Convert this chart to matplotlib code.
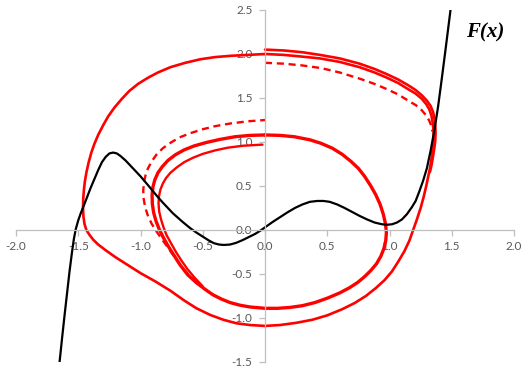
import numpy as np
import matplotlib
matplotlib.use("Agg")
import matplotlib.pyplot as plt

# F(x) curve
f_x = [-1.65, -1.63, -1.61, -1.59, -1.57, -1.55, -1.535, -1.52, -1.50, -1.48, -1.46,
       -1.43, -1.40, -1.37, -1.34, -1.31, -1.28, -1.25, -1.22, -1.19, -1.16, -1.12,
       -1.08, -1.04, -1.00, -0.94, -0.87, -0.82, -0.78, -0.74, -0.70, -0.66, -0.60,
       -0.55, -0.50, -0.45, -0.41, -0.37, -0.33, -0.28, -0.23, -0.18, -0.13, -0.08,
       -0.04, 0.00, 0.06, 0.12, 0.18, 0.24, 0.30, 0.36, 0.42, 0.47, 0.52, 0.58,
       0.64, 0.70, 0.76, 0.82, 0.88, 0.94, 0.98, 1.02, 1.06, 1.10, 1.14, 1.18,
       1.21, 1.24, 1.27, 1.30, 1.33, 1.36, 1.39, 1.42, 1.45, 1.49]
f_y = [-1.50, -1.23, -0.97, -0.72, -0.47, -0.25, -0.10, 0.01, 0.11, 0.19, 0.26,
       0.37, 0.48, 0.58, 0.68, 0.77, 0.83, 0.87, 0.88, 0.87, 0.84, 0.79,
       0.73, 0.67, 0.61, 0.51, 0.39, 0.31, 0.25, 0.19, 0.14, 0.09, 0.02,
       -0.03, -0.075, -0.12, -0.15, -0.165, -0.17, -0.165, -0.145, -0.115, -0.08, -0.045,
       -0.01, 0.03, 0.09, 0.145, 0.20, 0.25, 0.29, 0.32, 0.33, 0.33, 0.32, 0.29,
       0.25, 0.205, 0.16, 0.12, 0.085, 0.065, 0.06, 0.065, 0.085, 0.12, 0.18, 0.26,
       0.33, 0.44, 0.56, 0.70, 0.90, 1.13, 1.40, 1.72, 2.05, 2.50]

# outer trajectory (starts at top, y=2.0, runs clockwise back to it)
outer_x = [0.00, 0.15, 0.30, 0.44, 0.60, 0.76, 0.88, 0.98, 1.07, 1.15, 1.21, 1.26,
           1.295, 1.32, 1.337, 1.347, 1.353, 1.355, 1.352, 1.345, 1.337, 1.325, 1.31,
           1.295, 1.275, 1.25, 1.22, 1.19, 1.16, 1.12, 1.07, 1.02, 0.96, 0.89, 0.81,
           0.72, 0.62, 0.50, 0.38, 0.25, 0.12, 0.00, -0.12, -0.23, -0.335, -0.44,
           -0.55, -0.65, -0.76, -0.88, -1.00, -1.10, -1.20, -1.28, -1.34, -1.38,
           -1.41, -1.435, -1.45, -1.458, -1.462, -1.46, -1.455, -1.447, -1.435, -1.418,
           -1.395, -1.37, -1.34, -1.30, -1.26, -1.21, -1.15, -1.09, -1.02, -0.94,
           -0.86, -0.76, -0.64, -0.52, -0.40, -0.27, -0.13, 0.00]
outer_y = [2.00, 1.99, 1.97, 1.95, 1.91, 1.85, 1.79, 1.73, 1.67, 1.60, 1.55, 1.49,
           1.43, 1.37, 1.30, 1.22, 1.14, 1.06, 0.98, 0.90, 0.81, 0.70, 0.60,
           0.50, 0.38, 0.25, 0.12, 0.00, -0.12, -0.24, -0.36, -0.47, -0.57, -0.66, -0.75,
           -0.83, -0.90, -0.97, -1.02, -1.055, -1.08, -1.09, -1.08, -1.06, -1.02, -0.965,
           -0.89, -0.80, -0.69, -0.585, -0.49, -0.40, -0.31, -0.23, -0.165, -0.11,
           -0.055, 0.00, 0.07, 0.15, 0.25, 0.35, 0.45, 0.55, 0.65, 0.76,
           0.88, 0.98, 1.08, 1.19, 1.29, 1.39, 1.49, 1.58, 1.66, 1.73,
           1.79, 1.85, 1.90, 1.94, 1.965, 1.98, 1.99, 2.00]

# second top-right trajectory, starts at y=2.05
top2_x = [0.00, 0.15, 0.30, 0.44, 0.60, 0.76, 0.88, 0.98, 1.07, 1.15, 1.21, 1.26,
          1.30, 1.33, 1.35, 1.362, 1.368, 1.37, 1.367, 1.36, 1.35, 1.338, 1.325]
top2_y = [2.05, 2.04, 2.02, 1.99, 1.95, 1.89, 1.83, 1.77, 1.71, 1.645, 1.59, 1.53,
          1.47, 1.41, 1.34, 1.26, 1.18, 1.10, 1.01, 0.93, 0.84, 0.74, 0.66]

# dashed top-right trajectory, starts at y=1.90
dash_r_x = [0.00, 0.15, 0.30, 0.45, 0.60, 0.76, 0.88, 0.98, 1.07, 1.15, 1.21, 1.26,
            1.295, 1.32, 1.337, 1.345]
dash_r_y = [1.90, 1.89, 1.87, 1.84, 1.79, 1.72, 1.66, 1.60, 1.54, 1.47, 1.42, 1.36,
            1.30, 1.24, 1.18, 1.12]

# inner trajectory (starts at top, y=1.08)
inner_x = [0.00, 0.12, 0.235, 0.36, 0.45, 0.54, 0.62, 0.69, 0.75, 0.80, 0.85, 0.89,
           0.925, 0.95, 0.968, 0.975, 0.97, 0.955, 0.93, 0.895, 0.85, 0.80, 0.745,
           0.68, 0.60, 0.50, 0.40, 0.30, 0.20, 0.10, 0.00, -0.12, -0.20, -0.28,
           -0.35, -0.42, -0.48, -0.55, -0.62, -0.68, -0.73, -0.775, -0.815, -0.85,
           -0.875, -0.895, -0.905, -0.907, -0.90, -0.885, -0.86, -0.825, -0.78,
           -0.72, -0.65, -0.57, -0.47, -0.36, -0.24, -0.12, 0.00]
inner_y = [1.08, 1.075, 1.06, 1.025, 0.985, 0.93, 0.86, 0.78, 0.70, 0.61, 0.50, 0.40,
           0.29, 0.18, 0.07, -0.03, -0.12, -0.21, -0.30, -0.385, -0.46, -0.53, -0.595,
           -0.655, -0.715, -0.775, -0.825, -0.86, -0.88, -0.89, -0.89, -0.875, -0.855, -0.825,
           -0.785, -0.735, -0.675, -0.60, -0.51, -0.40, -0.29, -0.19, -0.09, 0.01,
           0.10, 0.20, 0.30, 0.40, 0.49, 0.57, 0.65, 0.72, 0.79,
           0.855, 0.91, 0.955, 0.995, 1.03, 1.06, 1.075, 1.08]

# dashed upper-left trajectory, ends at y=1.25
dash_l_x = [-0.55, -0.62, -0.68, -0.73, -0.78, -0.83, -0.87, -0.91, -0.94, -0.963,
            -0.975, -0.978, -0.972, -0.96, -0.94, -0.91, -0.87, -0.82, -0.76, -0.69,
            -0.60, -0.50, -0.40, -0.28, -0.14, 0.00]
dash_l_y = [-0.60, -0.50, -0.40, -0.30, -0.20, -0.10, -0.02, 0.07, 0.16, 0.26,
            0.36, 0.45, 0.54, 0.62, 0.70, 0.78, 0.86, 0.93, 0.99, 1.05,
            1.10, 1.145, 1.18, 1.21, 1.235, 1.25]

# thin upper-left trajectory, ends at y=0.97
thin_l_x = [-0.50, -0.56, -0.62, -0.67, -0.715, -0.755, -0.79, -0.815, -0.835, -0.85,
            -0.855, -0.852, -0.84, -0.82, -0.795, -0.76, -0.71, -0.65, -0.58, -0.50,
            -0.40, -0.30, -0.18, -0.05, -0.02]
thin_l_y = [-0.64, -0.55, -0.45, -0.35, -0.25, -0.15, -0.06, 0.03, 0.12, 0.21,
            0.30, 0.38, 0.46, 0.53, 0.59, 0.65, 0.71, 0.77, 0.82, 0.865,
            0.905, 0.935, 0.957, 0.968, 0.97]

xticks = [-2.0, -1.5, -1.0, -0.5, 0.0, 0.5, 1.0, 1.5, 2.0]
yticks = [-1.5, -1.0, -0.5, 0.0, 0.5, 1.0, 1.5, 2.0, 2.5]

plt.rcParams['font.family'] = ['Lato', 'DejaVu Sans']

fig = plt.figure(figsize=(5.22, 3.73), dpi=100)
ax = fig.add_axes([16 / 522, 11 / 373, 498 / 522, 352 / 373])

red = '#FF0000'
ax.plot(outer_x, outer_y, color=red, lw=1.9, solid_capstyle='round', solid_joinstyle='round')
ax.plot(top2_x, top2_y, color=red, lw=1.9, solid_capstyle='round', solid_joinstyle='round')
ax.plot(dash_r_x, dash_r_y, color=red, lw=1.7, ls=(0, (3, 2)))
ax.plot(inner_x, inner_y, color=red, lw=2.4, solid_capstyle='round', solid_joinstyle='round')
ax.plot(dash_l_x, dash_l_y, color=red, lw=1.7, ls=(0, (3, 2)))
ax.plot(thin_l_x, thin_l_y, color=red, lw=1.7, solid_capstyle='round', solid_joinstyle='round')
ax.plot(f_x, f_y, color='black', lw=1.6, solid_joinstyle='round')

ax.text(1.77, 2.24, 'F(x)', family='Liberation Serif', fontweight='bold',
        fontstyle='italic', fontsize=15, ha='center', va='center')

ax.set_xlim(-2, 2)
ax.set_ylim(-1.5, 2.5)
ax.set_xticks(xticks)
ax.set_yticks(yticks)
ax.set_xticklabels(['%.1f' % v for v in xticks])
ax.set_yticklabels(['%.1f' % v for v in yticks])

for side in ['top', 'right']:
    ax.spines[side].set_visible(False)
ax.spines['left'].set_position(('data', 0))
ax.spines['bottom'].set_position(('data', 0))
for side in ['left', 'bottom']:
    ax.spines[side].set_color('#BFBFBF')
    ax.spines[side].set_linewidth(0.9)
ax.tick_params(direction='out', length=4, width=0.9, color='#BFBFBF',
               labelcolor='#595959', labelsize=8.5)
ax.tick_params(axis='y', pad=5)
ax.tick_params(axis='x', pad=4)
ax.patch.set_visible(False)

fig.savefig('out.png', dpi=100)
